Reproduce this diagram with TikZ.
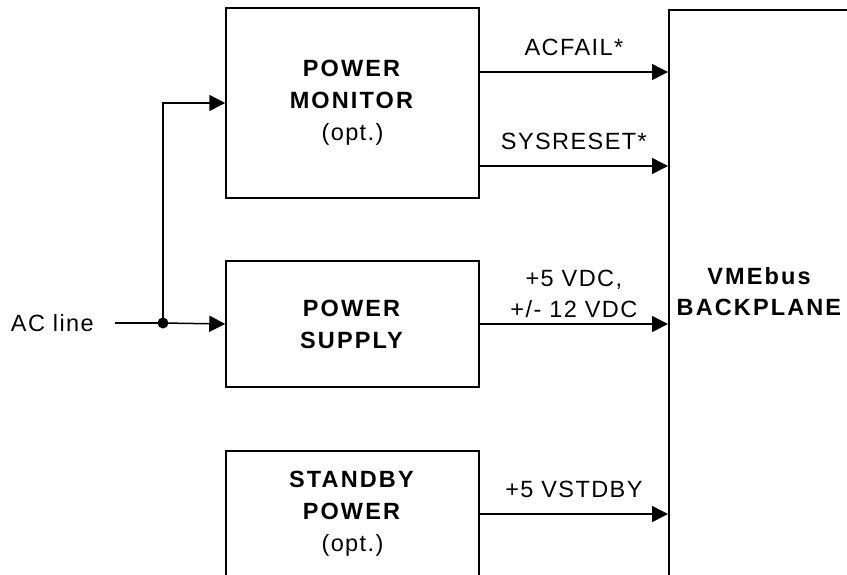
\documentclass[tikz,border=0pt]{standalone}
\usepackage{fontspec}
\setmainfont[LetterSpace=6, BoldFeatures={LetterSpace=9}]{Liberation Sans}
\usetikzlibrary{arrows.meta,calc,positioning}
\tikzset{
  blockbox/.style={draw, line width=1.5pt, minimum width=253pt, align=center,
    inner sep=0pt, font=\fontsize{23.5}{32}\selectfont},
  sigline/.style={line width=1.5pt, -{Triangle[length=16pt,width=16pt]}},
  siglabel/.style={font=\fontsize{23.5}{31}\selectfont, align=center, inner sep=0pt}
}
\newcommand{\blkname}[1]{\textbf{#1}}

\begin{document}
\begin{tikzpicture}[x=1pt,y=-1pt]
  \useasboundingbox (0,0) rectangle (847,574);
  \clip (0,0) rectangle (847,574);
  \node[blockbox, minimum height=190pt] (mon) at (352.5,103) {\blkname{POWER}\\\blkname{MONITOR}\\(opt.)};
  \node[blockbox, minimum height=126pt] (sup) at (352.5,324) {\blkname{POWER}\\\blkname{SUPPLY}};
  \node[blockbox, minimum height=126pt] (stb) at (352.5,514) {\blkname{STANDBY}\\\blkname{POWER}\\(opt.)};
  \node[draw, line width=1.5pt, anchor=north west, minimum width=300pt, minimum height=700pt] (bp) at (668,9) {};
  \node[siglabel] (bplbl) at (760,292) {\blkname{VMEbus}\\\blkname{BACKPLANE}};
  \node[siglabel, anchor=east] (aclbl) at (94,323) {AC line};
  \coordinate (jn) at (163,323);
  \coordinate (acin) at (115,323);
  \coordinate (yacf) at (0,72);
  \coordinate (yrst) at (0,166);
  \coordinate (yvdc) at (0,324);
  \coordinate (ystb) at (0,514);
  \draw[line width=1.5pt] (acin) -- (jn);
  \draw[sigline] (jn) -- (sup.west);
  \draw[sigline] (jn) |- (mon.west);
  \fill (jn) circle (5.5pt);
  \draw[sigline] (mon.east |- yacf) -- node[siglabel, anchor=base, yshift=16.5pt] {ACFAIL*} (bp.west |- yacf);
  \draw[sigline] (mon.east |- yrst) -- node[siglabel, anchor=base, yshift=16.5pt] {SYSRESET*} (bp.west |- yrst);
  \draw[sigline] (sup.east |- yvdc) -- node[siglabel, anchor=base, yshift=7pt] {+5 VDC,\\+/- 12 VDC} (bp.west |- yvdc);
  \draw[sigline] (stb.east |- ystb) -- node[siglabel, anchor=base, yshift=16.5pt] {+5 VSTDBY} (bp.west |- ystb);
\end{tikzpicture}
\end{document}
